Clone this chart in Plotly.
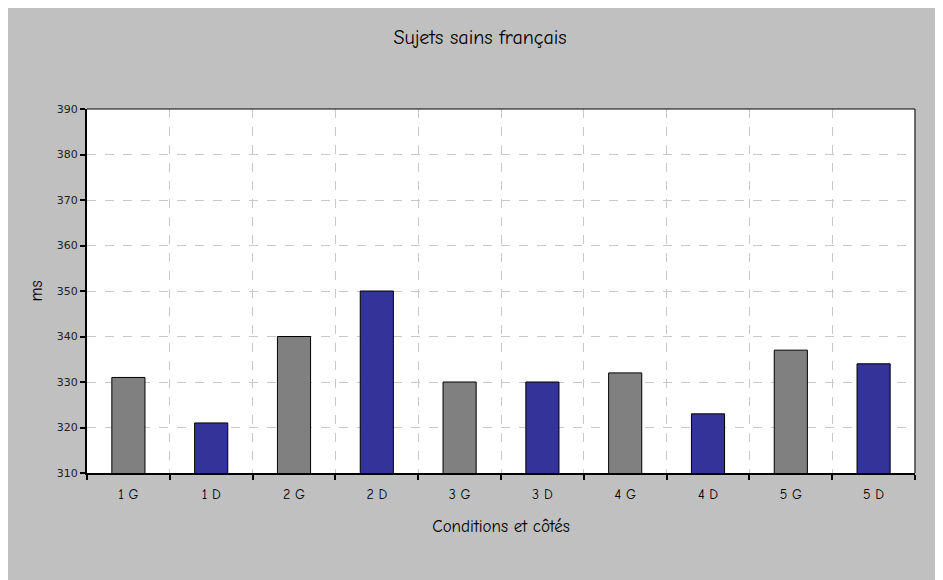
import plotly.graph_objects as go

categories = ["1 G", "1 D", "2 G", "2 D", "3 G", "3 D", "4 G", "4 D", "5 G", "5 D"]
values = [331, 321, 340, 350, 330, 330, 332, 323, 337, 334]
bar_colors = ["#808080", "#333399"] * 5

y_ticks = list(range(310, 391, 10))

comic = "Comic Sans MS, Comic Neue, Lato, Open Sans, sans-serif"
tick_font = "Tahoma, DejaVu Sans, Verdana, sans-serif"

fig = go.Figure(
    go.Bar(
        x=categories,
        y=values,
        marker=dict(color=bar_colors, line=dict(color="#000000", width=1)),
        width=0.40,
    )
)

fig.update_layout(
    width=943,
    height=580,
    paper_bgcolor="#C0C0C0",
    plot_bgcolor="#FFFFFF",
    margin=dict(l=79, r=36, t=101, b=115),
    showlegend=False,
    title=dict(
        text="Sujets sains français",
        x=(480 - 8) / 943,
        xanchor="center",
        y=1 - 29 / 580,
        yanchor="middle",
        font=dict(family=comic, size=20, color="#000000"),
    ),
)

fig.update_xaxes(
    type="category",
    tickson="boundaries",
    ticks="outside",
    ticklen=5,
    tickwidth=2,
    tickcolor="#000000",
    showline=True,
    linecolor="#000000",
    linewidth=2,
    showgrid=True,
    gridcolor="#C8C8C8",
    griddash="dash",
    gridwidth=1,
    ticklabelstandoff=7,
    tickfont=dict(family=comic, size=14, color="#000000"),
    title=dict(text="Conditions et côtés", standoff=18,
               font=dict(family=comic, size=17, color="#000000")),
)

fig.update_yaxes(
    range=[310, 390],
    tickvals=y_ticks,
    ticks="outside",
    ticklen=5,
    tickwidth=2,
    tickcolor="#000000",
    showline=True,
    linecolor="#000000",
    linewidth=2,
    showgrid=True,
    gridcolor="#C8C8C8",
    griddash="dash",
    gridwidth=1,
    zeroline=False,
    tickfont=dict(family=tick_font, size=11, color="#222222"),
    title=dict(text="ms", standoff=10,
               font=dict(family=comic, size=17, color="#000000")),
)

# Thin frame on top and right of plot area
fig.add_shape(type="line", xref="paper", yref="paper", x0=0, x1=1, y0=1, y1=1,
              line=dict(color="#000000", width=1))
fig.add_shape(type="line", xref="paper", yref="paper", x0=1, x1=1, y0=0, y1=1,
              line=dict(color="#404040", width=1.5))

fig.write_html("out.html")
